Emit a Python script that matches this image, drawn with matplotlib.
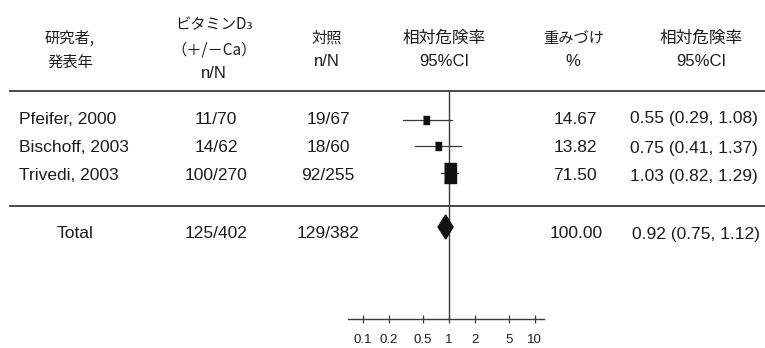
import numpy as np
import matplotlib
matplotlib.use('Agg')
import matplotlib.pyplot as plt
from matplotlib.patches import Polygon

plt.rcParams['font.family'] = ['Liberation Sans', 'Noto Sans CJK JP', 'DejaVu Sans']

# Study data
studies = ['Pfeifer, 2000', 'Bischoff, 2003', 'Trivedi, 2003']
treat_counts = ['11/70', '14/62', '100/270']
control_counts = ['19/67', '18/60', '92/255']
rr = [0.55, 0.75, 1.03]
rr_low = [0.29, 0.41, 0.82]
rr_high = [1.08, 1.37, 1.29]
weights = [14.67, 13.82, 71.50]

# Pooled result
total_label = 'Total'
total_treat = '125/402'
total_control = '129/382'
total_rr = 0.92
total_low = 0.75
total_high = 1.12
total_weight = 100.00

axis_ticks = [0.1, 0.2, 0.5, 1, 2, 5, 10]
axis_labels = ['0.1', '0.2', '0.5', '1', '2', '5', '10']

W, H = 765, 348
TXT = '#1c1c1c'
LINE = '#3a3a3a'
JP = ['Noto Sans CJK JP', 'DejaVu Sans']

fig = plt.figure(figsize=(W / 100, H / 100), dpi=100)
ax = fig.add_axes([0, 0, 1, 1])
ax.set_xlim(0, W)
ax.set_ylim(H, 0)
ax.axis('off')

# column headers
hdr_jp = dict(ha='center', va='center', fontsize=11, color=TXT, family=JP)
hdr_en = dict(ha='center', va='center', fontsize=12, color=TXT)
ax.text(70, 38, '研究者,', **hdr_jp)
ax.text(70, 62, '発表年', **hdr_jp)
ax.text(214, 25, 'ビタミンD₃', **hdr_jp)
ax.text(214, 50, '（＋/－Ca）', **hdr_jp)
ax.text(214, 74, 'n/N', **hdr_en)
ax.text(327, 38, '対照', **hdr_jp)
ax.text(327, 62, 'n/N', **hdr_en)
ax.text(444, 38, '相対危険率', ha='center', va='center', fontsize=12, color=TXT, family=JP)
ax.text(444, 62, '95%CI', **hdr_en)
ax.text(574, 38, '重みづけ', **hdr_jp)
ax.text(573, 62, '%', **hdr_en)
ax.text(701, 38, '相対危険率', ha='center', va='center', fontsize=12, color=TXT, family=JP)
ax.text(701, 62, '95%CI', **hdr_en)

# separators
ax.plot([10, W], [91, 91], color=LINE, lw=1.3)
ax.plot([10, W], [206, 206], color=LINE, lw=1.3)

row_y = [119, 148, 176]
total_y = 234
body = dict(va='center', fontsize=12.5, color=TXT)

for i, y in enumerate(row_y):
    ax.text(19, y, studies[i], ha='left', **body)
    ax.text(216, y, treat_counts[i], ha='center', **body)
    ax.text(328, y, control_counts[i], ha='center', **body)
    ax.text(575, y, f'{weights[i]:.2f}', ha='center', **body)
    ax.text(630, y, f'{rr[i]:.2f} ({rr_low[i]:.2f}, {rr_high[i]:.2f})', ha='left', **body)

ax.text(75, total_y, total_label, ha='center', **body)
ax.text(216, total_y, total_treat, ha='center', **body)
ax.text(328, total_y, total_control, ha='center', **body)
ax.text(576, total_y, f'{total_weight:.2f}', ha='center', **body)
ax.text(632, total_y, f'{total_rr:.2f} ({total_low:.2f}, {total_high:.2f})', ha='left', **body)

# forest panel on a log axis
px_per_decade = 86.0
x_one = 448.8
left_px, right_px = 348, 544
fax = fig.add_axes([left_px / W, 0, (right_px - left_px) / W, 1])
fax.set_xscale('log')
fax.set_xlim(10 ** ((left_px - x_one) / px_per_decade), 10 ** ((right_px - x_one) / px_per_decade))
fax.set_ylim(H, 0)
fax.patch.set_visible(False)
for side in ['top', 'left', 'right']:
    fax.spines[side].set_visible(False)
fax.spines['bottom'].set_position(('data', 319))
fax.spines['bottom'].set_color(LINE)
fax.spines['bottom'].set_linewidth(1.0)
fax.set_yticks([])
fax.set_xticks(axis_ticks, axis_labels)
fax.minorticks_off()
fax.tick_params(axis='x', direction='inout', length=6, width=0.9, color=LINE,
                labelsize=9.5, labelcolor=TXT, pad=8)

# line of no effect
fax.plot([1, 1], [91, 319], color=LINE, lw=1.0)

box_shape = [(-0.6, -1), (0.6, -1), (0.6, 1), (-0.6, 1)]
marker_y = [120, 146, 173]
for i, y in enumerate(marker_y):
    fax.plot([rr_low[i], rr_high[i]], [y, y], color=LINE, lw=0.9, zorder=2)
    size_pt = 2.3 * np.sqrt(weights[i]) / 1.389
    fax.plot([rr[i]], [y], marker=box_shape, markersize=size_pt,
             color='#111111', lw=0, zorder=3)

# pooled estimate diamond
dy = 12
diamond = Polygon([(total_low, 227), (total_rr, 227 - dy), (total_high, 227), (total_rr, 227 + dy)],
                  closed=True, facecolor='#111111', edgecolor='#111111', zorder=3)
fax.add_patch(diamond)

fig.savefig('out.png', dpi=100)
